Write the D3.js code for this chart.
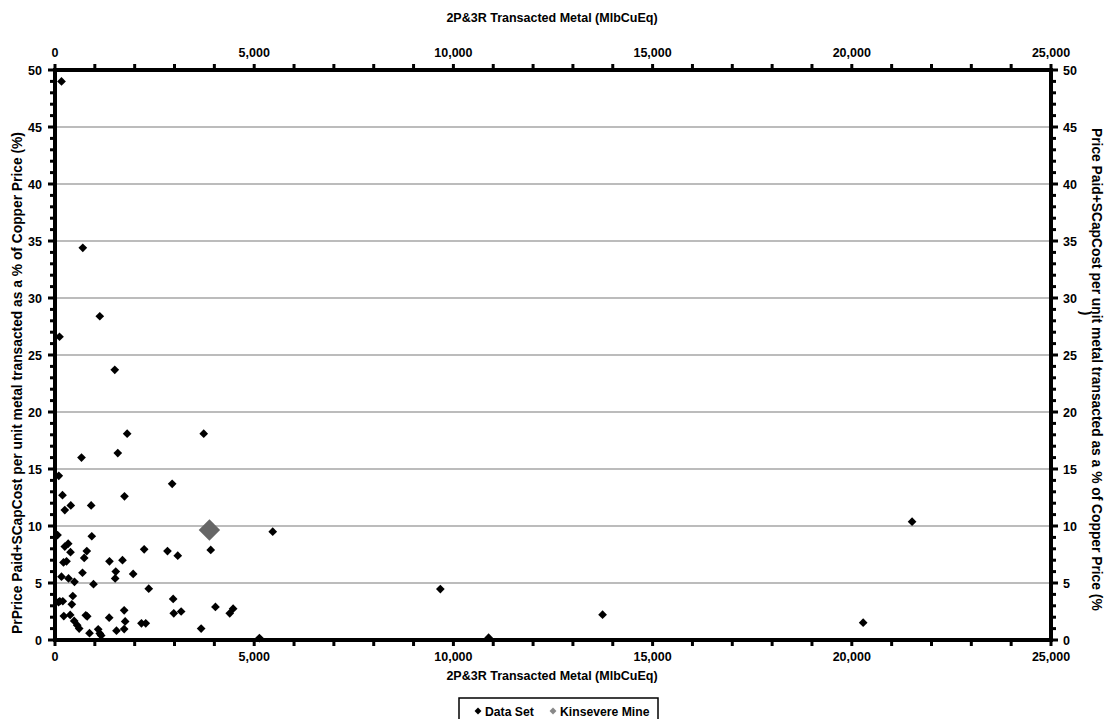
<!DOCTYPE html>
<html>
<head>
<meta charset="utf-8">
<script src="https://cdn.jsdelivr.net/npm/d3@7"></script>
<style>
  html, body { margin: 0; padding: 0; background: #fff; }
  svg { display: block; font-family: "Liberation Sans", Arial, sans-serif; font-weight: bold; }
</style>
</head>
<body>
<svg id="chart" width="1105" height="719"></svg>
<script>
// ---- Data ----
const dataSetX = [163, 698, 1124, 113, 1500, 3733, 1811, 1576, 665, 95, 2941, 1744, 188, 396, 246, 908,
  5465, 63, 923, 331, 246, 389, 798, 733, 213, 289, 2238, 2823, 3081, 3909, 1367, 1694, 690, 1525, 1510,
  1962, 163, 339, 489, 966, 2353, 447, 88, 196, 422, 2966, 4027, 1736, 3166, 2981, 4471, 4386, 221, 381,
  773, 808, 1360, 482, 557, 607, 1761, 2170, 2278, 1736, 1543, 866, 1084, 1124, 1159, 3668, 5131, 9672,
  10884, 13744, 20285, 21513, 120];
const dataSetY = [49.0, 34.4, 28.4, 26.6, 23.7, 18.1, 18.1, 16.4, 16.0, 14.4, 13.7, 12.6, 12.7, 11.8, 11.4, 11.8,
  9.5, 9.2, 9.1, 8.45, 8.2, 7.7, 7.8, 7.2, 6.8, 6.9, 7.95, 7.8, 7.4, 7.9, 6.9, 7.0, 5.9, 6.0, 5.4,
  5.8, 5.55, 5.4, 5.1, 4.9, 4.5, 3.86, 3.33, 3.4, 3.13, 3.6, 2.9, 2.6, 2.5, 2.34, 2.75, 2.34, 2.1, 2.2,
  2.17, 2.08, 1.96, 1.67, 1.3, 1.0, 1.63, 1.46, 1.46, 0.96, 0.82, 0.6, 0.94, 0.58, 0.4, 1.0, 0.17, 4.47,
  0.2, 2.22, 1.52, 10.38, 3.4];
const kinsevereX = [3876];
const kinsevereY = [9.65];
const xTicks = [0, 5000, 10000, 15000, 20000, 25000];
const yTicks = [0, 5, 10, 15, 20, 25, 30, 35, 40, 45, 50];
const seriesNames = ["Data Set", "Kinsevere Mine"];
const xTitle = "2P&3R Transacted Metal (MlbCuEq)";
const yTitleLeft = "PrPrice Paid+SCapCost per unit metal transacted as a % of Copper Price (%)";
const yTitleRight1 = "Price Paid+SCapCost per unit metal transacted as a % of Copper Price (%)";
const yTitleRight2 = ")";

// ---- Layout ----
const svg = d3.select("#chart");
const L = 55, R = 1051, T = 70, B = 640;
const x = d3.scaleLinear().domain([0, 25000]).range([L, R]);
const y = d3.scaleLinear().domain([0, 50]).range([B, T]);
const fmt = d3.format(",");

// gridlines
svg.append("g").selectAll("line").data(yTicks.filter(v => v > 0 && v < 50)).join("line")
  .attr("x1", L).attr("x2", R).attr("y1", d => y(d)).attr("y2", d => y(d))
  .attr("stroke", "#a6a6a6").attr("stroke-width", 1.5);

// minor ticks
const minorX = d3.range(0, 25001, 1000);
const minorY = d3.range(0, 51, 1);
const tickW = 3;
svg.append("g").selectAll("line").data(minorX).join("line")
  .attr("x1", d => x(d)).attr("x2", d => x(d)).attr("y1", B).attr("y2", B + 6)
  .attr("stroke", "#000").attr("stroke-width", tickW);
svg.append("g").selectAll("line").data(minorX).join("line")
  .attr("x1", d => x(d)).attr("x2", d => x(d)).attr("y1", T).attr("y2", T - 6)
  .attr("stroke", "#000").attr("stroke-width", tickW);
svg.append("g").selectAll("line").data(minorY).join("line")
  .attr("x1", d => L - (d % 5 === 0 ? 7 : 5)).attr("x2", L).attr("y1", d => y(d)).attr("y2", d => y(d))
  .attr("stroke", "#000").attr("stroke-width", tickW);
svg.append("g").selectAll("line").data(minorY).join("line")
  .attr("x1", R).attr("x2", d => R + (d % 5 === 0 ? 7 : 5)).attr("y1", d => y(d)).attr("y2", d => y(d))
  .attr("stroke", "#000").attr("stroke-width", tickW);

// axis frame lines
const axW = 4;
svg.append("line").attr("x1", L - 2).attr("x2", R + 2).attr("y1", B).attr("y2", B).attr("stroke", "#000").attr("stroke-width", axW);
svg.append("line").attr("x1", L - 2).attr("x2", R + 2).attr("y1", T).attr("y2", T).attr("stroke", "#000").attr("stroke-width", axW);
svg.append("line").attr("x1", L).attr("x2", L).attr("y1", T).attr("y2", B).attr("stroke", "#000").attr("stroke-width", axW);
svg.append("line").attr("x1", R).attr("x2", R).attr("y1", T).attr("y2", B).attr("stroke", "#000").attr("stroke-width", axW);

// tick labels
const fs = 12.5;
svg.append("g").selectAll("text").data(xTicks).join("text")
  .attr("x", d => x(d)).attr("y", 661).attr("text-anchor", "middle").attr("font-size", fs).text(d => fmt(d));
svg.append("g").selectAll("text").data(xTicks).join("text")
  .attr("x", d => x(d)).attr("y", 57).attr("text-anchor", "middle").attr("font-size", fs).text(d => fmt(d));
svg.append("g").selectAll("text").data(yTicks).join("text")
  .attr("x", 42).attr("y", d => y(d) + 4.5).attr("text-anchor", "end").attr("font-size", fs).text(d => d);
svg.append("g").selectAll("text").data(yTicks).join("text")
  .attr("x", 1063).attr("y", d => y(d) + 4.5).attr("text-anchor", "start").attr("font-size", fs).text(d => d);

// axis titles
svg.append("text").attr("x", 552).attr("y", 680).attr("text-anchor", "middle").attr("font-size", 12.5).text(xTitle);
svg.append("text").attr("x", 552).attr("y", 22).attr("text-anchor", "middle").attr("font-size", 12.5).text(xTitle);
svg.append("text").attr("transform", "translate(22,383) rotate(-90)").attr("text-anchor", "middle")
  .attr("font-size", 13.8).text(yTitleLeft);
svg.append("text").attr("transform", "translate(1092,128) rotate(90)").attr("text-anchor", "start")
  .attr("font-size", 13.8).text(yTitleRight1.slice(0, -1));
svg.append("text").attr("transform", "translate(1081,313) rotate(90)").attr("text-anchor", "middle")
  .attr("font-size", 13.8).text(yTitleRight2);

// points
const smallD = d3.symbol().type(d3.symbolSquare).size(38);
const bigD = d3.symbol().type(d3.symbolSquare).size(230);
svg.append("g").selectAll("path").data(d3.range(dataSetX.length)).join("path")
  .attr("d", smallD)
  .attr("transform", i => `translate(${x(dataSetX[i])},${y(dataSetY[i])}) rotate(45)`)
  .attr("fill", "#000");
svg.append("g").selectAll("path").data(d3.range(kinsevereX.length)).join("path")
  .attr("d", bigD)
  .attr("transform", i => `translate(${x(kinsevereX[i])},${y(kinsevereY[i])}) rotate(45)`)
  .attr("fill", "#666666");

// legend
const lg = svg.append("g");
lg.append("rect").attr("x", 459).attr("y", 698).attr("width", 199).attr("height", 30)
  .attr("fill", "#fff").attr("stroke", "#000").attr("stroke-width", 1.5);
const legD = d3.symbol().type(d3.symbolSquare).size(24);
lg.append("path").attr("d", legD).attr("transform", "translate(478,711) rotate(45)").attr("fill", "#000");
lg.append("text").attr("x", 485).attr("y", 716).attr("font-size", 12.2).text(seriesNames[0]);
lg.append("path").attr("d", legD).attr("transform", "translate(553,711) rotate(45)").attr("fill", "#888");
lg.append("text").attr("x", 560).attr("y", 716).attr("font-size", 12.2).text(seriesNames[1]);
</script>
</body>
</html>
